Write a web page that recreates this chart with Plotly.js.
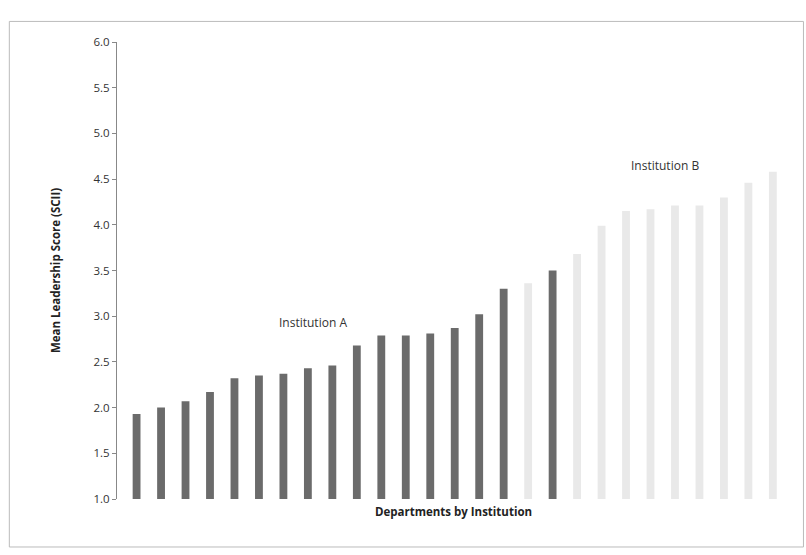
<!DOCTYPE html>
<html>
<head>
<meta charset="utf-8">
<script src="https://cdn.plot.ly/plotly-3.0.1.min.js"></script>
<style>html,body{margin:0;padding:0;background:#fff;}#chart{width:806px;height:555px;}</style>
</head>
<body>
<div id="chart"></div>
<script>
const departments = ["D1","D2","D3","D4","D5","D6","D7","D8","D9","D10","D11","D12","D13","D14","D15","D16","D17","D18","D19","D20","D21","D22","D23","D24","D25","D26","D27"];
const scores = [1.93,2.0,2.07,2.17,2.32,2.35,2.37,2.43,2.46,2.68,2.79,2.79,2.81,2.87,3.02,3.30,3.36,3.50,3.68,3.99,4.15,4.17,4.21,4.21,4.30,4.46,4.58];
const institution = ["A","A","A","A","A","A","A","A","A","A","A","A","A","A","A","A","B","A","B","B","B","B","B","B","B","B","B"];
const instColors = {A: "#6b6b6b", B: "#e9e9e9"};
const yTicks = [1.0,1.5,2.0,2.5,3.0,3.5,4.0,4.5,5.0,5.5,6.0];

const xIdx = departments.map((d, i) => i);
const trace = {
  type: "bar",
  x: xIdx,
  y: scores,
  hovertext: departments,
  hoverinfo: "text+y",
  textposition: "none",
  marker: {color: institution.map(k => instColors[k]), line: {width: 0}},
  width: 0.32
};

const layout = {
  width: 806, height: 555,
  margin: {l: 117, r: 16, t: 42, b: 56},
  paper_bgcolor: "#ffffff", plot_bgcolor: "#ffffff",
  font: {family: "Open Sans, Liberation Sans, sans-serif", color: "#333"},
  showlegend: false,
  xaxis: {
    range: [-0.8, 26.7], showticklabels: false, ticks: "", showgrid: false,
    zeroline: false, showline: false,
    title: {text: "<b>Departments by Institution</b>", font: {size: 11.5, color: "#222"}, standoff: 8}
  },
  yaxis: {
    range: [1, 6], tickvals: yTicks, ticktext: yTicks.map(v => v.toFixed(1)),
    ticks: "outside", ticklen: 4, tickcolor: "#888", showgrid: false, zeroline: false,
    showline: true, linecolor: "#888", linewidth: 1,
    tickfont: {size: 11.5, color: "#333"},
    title: {text: "<b>Mean Leadership Score (SCII)</b>", font: {size: 11.5, color: "#222"}, standoff: 30}
  },
  annotations: [
    {x: 7.2, y: 2.93, xref: "x", yref: "y", text: "Institution A", showarrow: false, font: {size: 12, color: "#333"}},
    {x: 21.6, y: 4.65, xref: "x", yref: "y", text: "Institution B", showarrow: false, font: {size: 12, color: "#333"}}
  ],
  shapes: [
    {type: "rect", xref: "paper", yref: "paper", x0: -0.16, x1: 1.02, y0: -0.105, y1: 1.045, line: {color: "#bbbbbb", width: 1}}
  ]
};

Plotly.newPlot("chart", [trace], layout, {displayModeBar: false, staticPlot: true});
</script>
</body>
</html>
